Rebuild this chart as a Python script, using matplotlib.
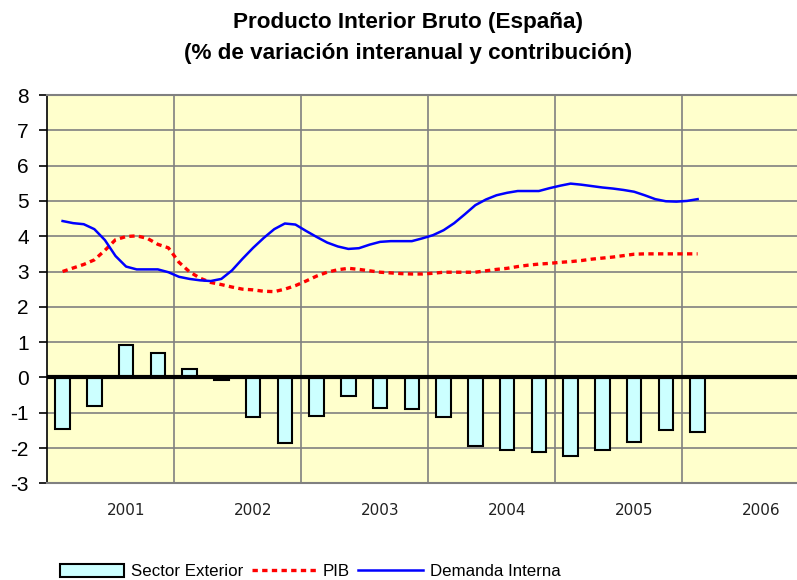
import numpy as np
import matplotlib
matplotlib.use('Agg')
import matplotlib.pyplot as plt
from matplotlib.patches import Patch
from matplotlib.lines import Line2D

plt.rcParams['axes.unicode_minus'] = False

# quarterly contribution of the external sector (bars)
sector_exterior = [-1.47, -0.80, 0.92, 0.68, 0.23, -0.06, -1.13, -1.87, -1.08, -0.52, -0.86,
                   -0.90, -1.13, -1.93, -2.05, -2.10, -2.22, -2.05, -1.82, -1.48, -1.54]

# monthly readings of the lines
pib = [3.00, 3.10, 3.20, 3.33, 3.60, 3.90, 3.99, 4.01, 3.94, 3.77, 3.67, 3.26, 2.99, 2.81, 2.69,
       2.63, 2.56, 2.50, 2.48, 2.44, 2.43, 2.50, 2.60, 2.73, 2.87, 2.98, 3.05, 3.09, 3.06, 3.02,
       2.98, 2.96, 2.94, 2.93, 2.93, 2.95, 2.98, 2.98, 2.98, 2.98, 3.02, 3.06, 3.09, 3.14, 3.18,
       3.21, 3.23, 3.26, 3.28, 3.31, 3.35, 3.38, 3.41, 3.45, 3.49, 3.50, 3.50, 3.50, 3.50, 3.50, 3.50]
demanda_interna = [4.43, 4.37, 4.34, 4.20, 3.89, 3.44, 3.14, 3.06, 3.06, 3.06, 2.98, 2.85, 2.79, 2.75, 2.73,
                   2.79, 3.03, 3.36, 3.67, 3.95, 4.20, 4.36, 4.33, 4.15, 3.98, 3.82, 3.71, 3.64, 3.66, 3.76,
                   3.84, 3.86, 3.86, 3.86, 3.94, 4.03, 4.17, 4.37, 4.62, 4.88, 5.04, 5.16, 5.23, 5.28, 5.28,
                   5.28, 5.36, 5.43, 5.49, 5.46, 5.42, 5.38, 5.35, 5.31, 5.26, 5.16, 5.05, 4.99, 4.98, 5.00, 5.05]

years = ['2001', '2002', '2003', '2004', '2005', '2006']

xq = np.arange(len(sector_exterior))
xm = np.arange(len(pib)) / 3.0

fig = plt.figure(figsize=(7.97, 5.8), dpi=100)
ax = fig.add_axes([0.0586, 0.1667, 0.9414, 0.6695])
ax.set_facecolor('#FFFFCC')

ax.bar(xq, sector_exterior, width=0.46, color='#CCFFFF', edgecolor='black', linewidth=1.5, zorder=3)
ax.axhline(0, color='black', linewidth=3, zorder=4)
ax.plot(xm, pib, color='#FF0000', linewidth=2.4, linestyle=(0, (1.6, 1.3)), zorder=5)
ax.plot(xm, demanda_interna, color='#0000FF', linewidth=1.8, zorder=6)

ax.set_ylim(-3, 8)
ax.set_yticks(range(-3, 9))
ax.set_xlim(-0.5, 23.13)

# year gridlines between groups of 4 quarters
for g in np.arange(3.5, 23, 4):
    ax.axvline(g, color='#808080', linewidth=1.2, zorder=1)
ax.grid(axis='y', color='#808080', linewidth=1.2, zorder=1)
ax.set_axisbelow(True)

ax.set_xticks(np.arange(2, 23, 4))
ax.set_xticklabels(years, fontsize=11, family='DejaVu Sans')
ax.tick_params(axis='x', length=0, pad=14, colors='#222222')
ax.tick_params(axis='y', length=6, width=1.2, pad=7, labelsize=15)
for lbl in ax.get_yticklabels():
    lbl.set_family('Liberation Sans')

ax.spines['left'].set_color('black')
ax.spines['left'].set_linewidth(1.2)
for s in ['top', 'bottom']:
    ax.spines[s].set_color('#808080')
    ax.spines[s].set_linewidth(1.5)
ax.spines['right'].set_visible(False)

fig.text(0.512, 0.962, 'Producto Interior Bruto (España)', ha='center', va='center',
         fontsize=16.2, fontweight='bold', family='Liberation Sans')
fig.text(0.512, 0.908, '(% de variación interanual y contribución)', ha='center', va='center',
         fontsize=16.2, fontweight='bold', family='Liberation Sans')

handles = [Patch(facecolor='#CCFFFF', edgecolor='black', linewidth=1.5),
           Line2D([], [], color='#FF0000', linewidth=2.4, linestyle=(0, (1.6, 1.3))),
           Line2D([], [], color='#0000FF', linewidth=1.8)]
fig.legend(handles, ['Sector Exterior', 'PIB', 'Demanda Interna'], loc='center',
           bbox_to_anchor=(0.389, 0.0143), ncol=3, frameon=False,
           prop={'family': 'Liberation Sans', 'size': 12.2},
           handlelength=3.8, handleheight=0.75, handletextpad=0.4, columnspacing=0.5)

fig.savefig('out.png', dpi=100)
